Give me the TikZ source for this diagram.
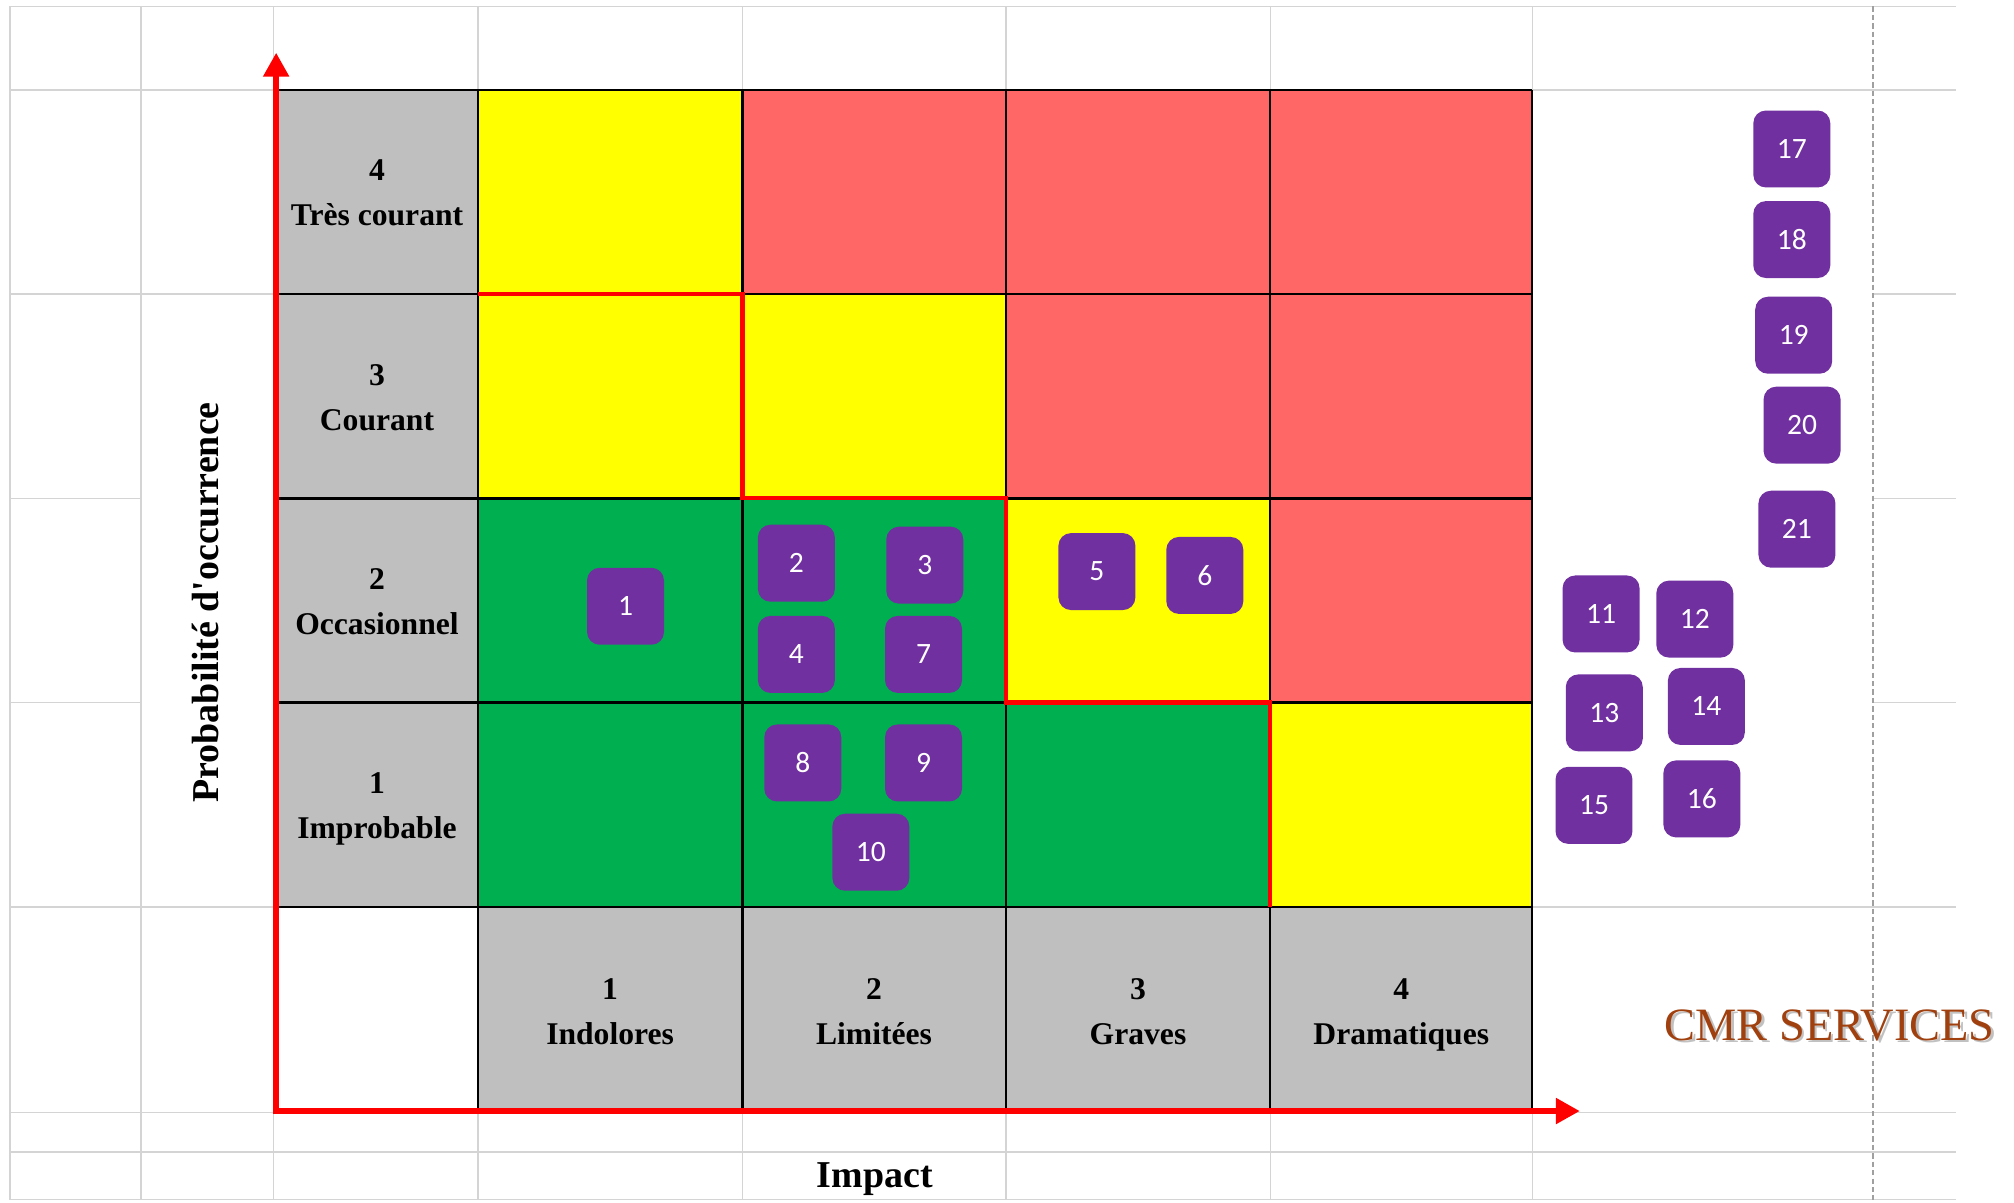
\documentclass[tikz,border=0pt]{standalone}
\usepackage{fontspec}
\setmainfont{Liberation Serif}
\newfontfamily\boxfont{Carlito}
\usetikzlibrary{arrows.meta}
\definecolor{cgray}{HTML}{BFBFBF}
\definecolor{cyellow}{HTML}{FFFF00}
\definecolor{cred}{HTML}{FF6666}
\definecolor{cgreen}{HTML}{00B050}
\definecolor{cpurple}{HTML}{7030A0}
\definecolor{gridgray}{HTML}{D4D4D4}
\definecolor{dashgray}{HTML}{A0A0A0}
\definecolor{cbrown}{HTML}{A0400F}
\definecolor{axisred}{HTML}{FF0000}
\newcommand{\dsc}{\vphantom{pq}}
\tikzset{
  gridline/.style={draw=gridgray, line width=0.45pt},
  pagebreak/.style={draw=dashgray, line width=0.5pt, dash pattern=on 1.5pt off 0.9pt},
  cellline/.style={draw=black, line width=0.65pt},
  riskline/.style={draw=axisred, line width=1.2pt, line join=miter},
  axisline/.style={draw=axisred, line width=1.7pt, line join=miter,
    {Triangle[length=6.8pt,width=7pt]}-{Triangle[length=6.8pt,width=7pt]}},
  lab/.style={align=center, font=\bfseries\fontsize{9}{12.8}\selectfont, inner sep=0pt},
  axtitle/.style={font=\bfseries\fontsize{10.8}{13}\selectfont, inner sep=0pt},
  rbox/.style={rectangle, rounded corners=3.6pt, fill=cpurple, minimum width=0.77cm,
    minimum height=0.77cm, inner sep=0pt, text=white, font=\boxfont\fontsize{8.4}{10}\selectfont},
  cmrtext/.style={font=\fontsize{13.2}{15}\selectfont, inner sep=0pt, anchor=base}
}
\begin{document}
\begin{tikzpicture}[x=0.012844cm,y=-0.012844cm]
\useasboundingbox (0,0) rectangle (1568,936);
\fill[white] (0,0) rectangle (1568,936);

% spreadsheet grid
\foreach \yy in {5,70,706,866,897,934} \draw[gridline] (8,\yy) -- (1523,\yy);
\draw[gridline] (8,229) -- (213,229);
\foreach \yy in {388,547} \draw[gridline] (8,\yy) -- (110,\yy);
\foreach \yy in {229,388,547} \draw[gridline] (1458,\yy) -- (1523,\yy);
\foreach \xx in {8,110} \draw[gridline] (\xx,5) -- (\xx,934);
\foreach \xx in {213,372,578,783,989,1193} {
  \draw[gridline] (\xx,5) -- (\xx,70);
  \draw[gridline] (\xx,862) -- (\xx,934);
}
\draw[pagebreak] (1458,5) -- (1458,934);

% cells
\fill[cgray] (215,70) rectangle (372,706);
\fill[white] (215,706) rectangle (372,862);
\fill[cgray] (372,706) rectangle (1193,863);
% row 4
\fill[cyellow] (372,70) rectangle (578,229);
\fill[cred] (578,70) rectangle (1193,229);
% row 3
\fill[cyellow] (372,229) rectangle (783,388);
\fill[cred] (783,229) rectangle (1193,388);
% row 2
\fill[cgreen] (372,388) rectangle (783,547);
\fill[cyellow] (783,388) rectangle (989,547);
\fill[cred] (989,388) rectangle (1193,547);
% row 1
\fill[cgreen] (372,547) rectangle (989,706);
\fill[cyellow] (989,547) rectangle (1193,706);

% cell borders
\foreach \yy in {70,229,388,547,706} \draw[cellline] (215,\yy) -- (1193,\yy);
\foreach \xx in {372,578,783,989,1193} \draw[cellline] (\xx,70) -- (\xx,863);
\draw[cellline] (215,70) -- (215,862);

% risk boundary
\draw[riskline] (372,229) -- (578,229) -- (578,388) -- (783,388) -- (783,547) -- (989,547) -- (989,706);

% axes
\coordinate (ytip) at (215,41);
\coordinate (origin) at (215,865);
\coordinate (xtip) at (1230,865);
\draw[axisline] (ytip) -- (origin) -- (xtip);

% row labels
\node[lab] (p4) at (293.5,152.5) {4\\Très courant\dsc};
\node[lab] (p3) at (293.5,312) {3\\Courant\dsc};
\node[lab] (p2) at (293.5,471) {2\\Occasionnel\dsc};
\node[lab] (p1) at (293.5,630) {1\\Improbable\dsc};
% column labels
\node[lab] (i1) at (475,790.5) {1\\Indolores\dsc};
\node[lab] (i2) at (680.5,790.5) {2\\Limitées\dsc};
\node[lab] (i3) at (886,790.5) {3\\Graves\dsc};
\node[lab] (i4) at (1091,790.5) {4\\Dramatiques\dsc};

% axis titles
\node[axtitle, rotate=90] (ytitle) at (160,469) {Probabilité d\textquotesingle occurrence};
\node[axtitle] (xtitle) at (681,918) {Impact};

% risk boxes
\node[rbox] (b1) at (487,472) {1};
\node[rbox] (b2) at (620,438.5) {2};
\node[rbox] (b3) at (720,440) {3};
\node[rbox] (b4) at (620,509.5) {4};
\node[rbox] (b7) at (719,509.5) {7};
\node[rbox] (b5) at (854,445) {5};
\node[rbox] (b6) at (938,448) {6};
\node[rbox] (b8) at (625,594) {8};
\node[rbox] (b9) at (719,594) {9};
\node[rbox] (b10) at (678,663.5) {10};
\node[rbox] (b11) at (1246.5,478) {11};
\node[rbox] (b12) at (1319.5,482) {12};
\node[rbox] (b13) at (1249,555) {13};
\node[rbox] (b14) at (1328.5,550) {14};
\node[rbox] (b15) at (1241,627) {15};
\node[rbox] (b16) at (1325,622) {16};
\node[rbox] (b17) at (1395,116) {17};
\node[rbox] (b18) at (1395,186.5) {18};
\node[rbox] (b19) at (1396.5,261) {19};
\node[rbox] (b20) at (1403,331) {20};
\node[rbox] (b21) at (1399,412) {21};

% company name with soft shadow
\node[cmrtext, text=black!40, opacity=0.6] (cmrshadow) at (1426.5,812) {CMR SERVICES};
\node[cmrtext, text=cbrown] (cmr) at (1424.5,810) {CMR SERVICES};
\end{tikzpicture}
\end{document}
